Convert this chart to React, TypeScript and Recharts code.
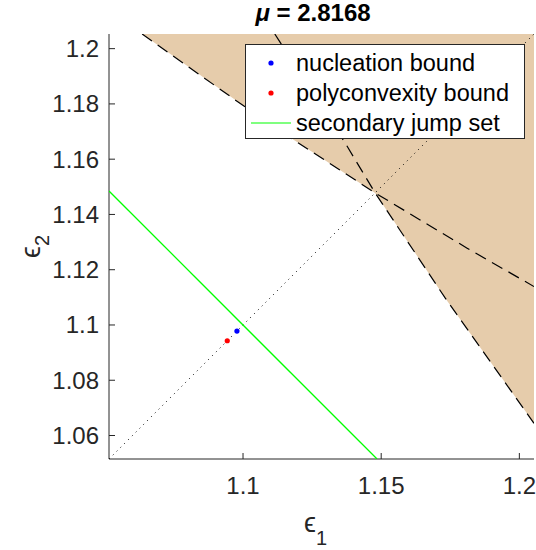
import { Area, ComposedChart, Label, Legend, Scatter, XAxis, YAxis } from 'recharts';

const FONT = "'Liberation Sans', Arial, Helvetica, sans-serif";
const AXIS = '#262626';

const titleText = 'μ = 2.8168';
const axisMin = 1.0515;
const axisMax = 1.2053;
const xTicks = [1.1, 1.15, 1.2];
const yTicks = [1.06, 1.08, 1.1, 1.12, 1.14, 1.16, 1.18, 1.2];

// shallow dashed boundary (upper left part of the shaded set)
const shallowX = [1.0635, 1.1002, 1.1183, 1.1478, 1.1811, 1.2053];
const shallowY = [1.2053, 1.1793, 1.167, 1.1478, 1.1278, 1.1139];
// steep dashed boundary
const steepX = [1.1115, 1.137, 1.1478, 1.1732, 1.2053];
const steepY = [1.2053, 1.1658, 1.1478, 1.1097, 1.0644];
// lower edge of the shaded region
const shadeX = [1.0635, 1.1002, 1.1183, 1.1478, 1.1732, 1.2053];
const shadeLow = [1.2053, 1.1793, 1.167, 1.1478, 1.1097, 1.0644];
// e1 = e2 diagonal
const diagX = [1.0515, 1.2053];
const diagY = [1.0515, 1.2053];
// secondary jump set
const jumpX = [1.0515, 1.1485];
const jumpY = [1.1485, 1.0515];
// bounds
const nucleation = { x: 1.0978, y: 1.0978 };
const polyconvexity = { x: 1.0943, y: 1.0943 };

const legendNames = ['nucleation bound', 'polyconvexity bound', 'secondary jump set'];
const legendColors = ['#0000ff', '#ff0000', '#00ff00'];

const pts = (xs: number[], ys: number[]) => xs.map((x, i) => ({ x, y: ys[i] }));
const fmt = (v: number) => String(v);
const noDot = () => <g />;

function XTitle({ viewBox }: any) {
  const cx = viewBox.x + viewBox.width / 2;
  return (
    <text x={cx - 6} y={viewBox.y + 73} textAnchor="middle" fill={AXIS} fontFamily={FONT}>
      <tspan fontSize={27}>ϵ</tspan>
      <tspan fontSize={20} dy={13}>1</tspan>
    </text>
  );
}

function YTitle({ viewBox }: any) {
  const cy = viewBox.y + viewBox.height / 2;
  const x = 40;
  return (
    <text x={x} y={cy} transform={`rotate(-90, ${x}, ${cy})`} textAnchor="middle" fill={AXIS} fontFamily={FONT}>
      <tspan fontSize={27}>ϵ</tspan>
      <tspan fontSize={20} dy={9}>2</tspan>
    </text>
  );
}

function LegendBox() {
  return (
    <div style={{ width: 280, height: 95, boxSizing: 'border-box', border: `1px solid ${AXIS}`, background: '#fff', paddingTop: 3, fontFamily: FONT, fontSize: 23.5, color: '#000' }}>
      {legendNames.map((name, i) => (
        <div key={name} style={{ display: 'flex', alignItems: 'center', height: 30 }}>
          <svg width={50} height={30}>
            {i < 2 ? <circle cx={25} cy={15} r={2.6} fill={legendColors[i]} /> : <line x1={5} x2={45} y1={15} y2={15} stroke={legendColors[i]} strokeWidth={1.2} />}
          </svg>
          <span style={{ lineHeight: '30px', whiteSpace: 'nowrap' }}>{name}</span>
        </div>
      ))}
    </div>
  );
}

export default function App() {
  const shadeData = shadeX.map((x, i) => ({ x, band: [shadeLow[i], axisMax] }));
  return (
    <div style={{ position: 'absolute', left: 0, top: 0, width: 536, height: 550, background: '#fff' }}>
      <div style={{ position: 'absolute', top: 0, left: 113, width: 400, textAlign: 'center', fontFamily: FONT, fontWeight: 'bold', fontSize: 24, lineHeight: '26px', color: '#000' }}>
        <i>μ</i>{titleText.slice(1)}
      </div>
      <ComposedChart width={536} height={550} data={shadeData} margin={{ top: 34, right: 2, bottom: 0, left: 0 }}>
        <XAxis
          type="number"
          dataKey="x"
          domain={[axisMin, axisMax]}
          allowDataOverflow
          ticks={xTicks}
          tickFormatter={fmt}
          height={91}
          stroke={AXIS}
          tickSize={-6}
          tickMargin={24}
          tick={{ fill: AXIS, fontSize: 24, fontFamily: FONT }}
        >
          <Label content={XTitle} />
        </XAxis>
        <YAxis
          type="number"
          dataKey="y"
          domain={[axisMin, axisMax]}
          allowDataOverflow
          ticks={yTicks}
          tickFormatter={fmt}
          width={109}
          stroke={AXIS}
          tickSize={-6}
          tickMargin={16}
          tick={{ fill: AXIS, fontSize: 24, fontFamily: FONT }}
        >
          <Label content={YTitle} />
        </YAxis>
        <Area dataKey="band" type="linear" stroke="none" fill="#e6ccab" fillOpacity={1} isAnimationActive={false} legendType="none" />
        <Scatter data={pts(diagX, diagY)} shape={noDot} line={{ stroke: '#000', strokeWidth: 1, strokeDasharray: '1 4.4' }} isAnimationActive={false} legendType="none" />
        <Scatter data={pts(shallowX, shallowY)} shape={noDot} line={{ stroke: '#000', strokeWidth: 1.2, strokeDasharray: '12 7' }} isAnimationActive={false} legendType="none" />
        <Scatter data={pts(steepX, steepY)} shape={noDot} line={{ stroke: '#000', strokeWidth: 1.2, strokeDasharray: '12 7' }} isAnimationActive={false} legendType="none" />
        <Scatter data={pts(jumpX, jumpY)} shape={noDot} line={{ stroke: '#00ff00', strokeWidth: 1.3 }} isAnimationActive={false} legendType="none" />
        <Scatter data={[nucleation]} shape={(p: any) => <circle cx={p.cx} cy={p.cy} r={2.6} fill="#0000ff" />} isAnimationActive={false} />
        <Scatter data={[polyconvexity]} shape={(p: any) => <circle cx={p.cx} cy={p.cy} r={2.6} fill="#ff0000" />} isAnimationActive={false} />
        <Legend layout="vertical" align="center" verticalAlign="middle" wrapperStyle={{ left: 245, top: 44, width: 280 }} content={() => <LegendBox />} />
      </ComposedChart>
    </div>
  );
}
